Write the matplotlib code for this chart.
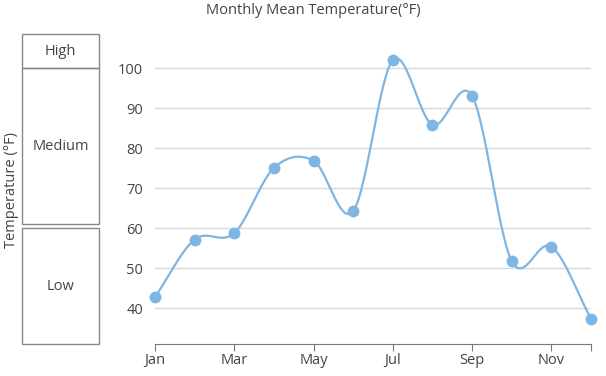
import numpy as np
import matplotlib
matplotlib.use("Agg")
import matplotlib.pyplot as plt
from matplotlib.patches import Rectangle

months = ['Jan', 'Feb', 'Mar', 'Apr', 'May', 'Jun',
          'Jul', 'Aug', 'Sep', 'Oct', 'Nov', 'Dec']
temps = [42.8, 57.2, 58.8, 75.1, 76.9, 64.3, 102.1, 85.9, 93.1, 51.8, 55.4, 37.4]
y_ticks = [40, 50, 60, 70, 80, 90, 100]

# band ranges on the left (label, low, high)
band_names = ['Low', 'Medium', 'High']
band_lows = [31.1, 61.0, 100.0]
band_highs = [60.0, 100.0, 108.6]

plt.rcParams['font.family'] = ['Open Sans', 'DejaVu Sans']

line_color = '#7fb5e3'
text_color = '#444444'
fs = 10.5


def catmull_rom(x, y, steps=30):
    # smooth curve through all points
    px = np.concatenate([[2 * x[0] - x[1]], x, [2 * x[-1] - x[-2]]])
    py = np.concatenate([[2 * y[0] - y[1]], y, [2 * y[-1] - y[-2]]])
    xs, ys = [], []
    t = np.linspace(0, 1, steps)
    for i in range(1, len(px) - 2):
        for p, out in ((px, xs), (py, ys)):
            p0, p1, p2, p3 = p[i - 1], p[i], p[i + 1], p[i + 2]
            out.extend(0.5 * ((2 * p1) + (-p0 + p2) * t
                              + (2 * p0 - 5 * p1 + 4 * p2 - p3) * t ** 2
                              + (-p0 + 3 * p1 - 3 * p2 + p3) * t ** 3))
    return np.array(xs), np.array(ys)


W, H = 606, 376
fig = plt.figure(figsize=(W / 100, H / 100), dpi=100)

y_lo, y_hi = 31.2, 108.6
bottom = 1 - 343.5 / H
top = 1 - 34 / H
ax = fig.add_axes([155 / W, bottom, (591 - 155) / W, top - bottom])

x = np.arange(len(months))
sx, sy = catmull_rom(x.astype(float), np.array(temps))
ax.plot(sx, sy, color=line_color, lw=1.6, zorder=3, clip_on=False)
ax.plot(x, temps, 'o', color=line_color, ms=7.5, zorder=4, clip_on=False)

ax.set_xlim(0, 11)
ax.set_ylim(y_lo, y_hi)
ax.set_yticks(y_ticks)
tick_pos = [0, 2, 4, 6, 8, 10, 11]
ax.set_xticks(tick_pos)
ax.set_xticklabels([months[i] if i % 2 == 0 else '' for i in tick_pos])
ax.grid(axis='y', color='#d9d9d9', lw=1)
ax.set_axisbelow(True)
for s in ['top', 'right', 'left']:
    ax.spines[s].set_visible(False)
ax.spines['bottom'].set_color('#777777')
ax.tick_params(axis='y', length=0, pad=8.5, labelsize=fs, labelcolor=text_color)
ax.tick_params(axis='x', length=5, color='#777777', labelsize=fs,
               labelcolor=text_color, pad=2)

fig.text(313 / W, 1 - 10 / H, 'Monthly Mean Temperature(°F)', ha='center',
         va='center', fontsize=fs, color=text_color)

# band axis on the left
bx = fig.add_axes([22 / W, bottom, 77 / W, top - bottom], sharey=ax)
bx.set_xlim(0, 1)
for name, lo, hi in zip(band_names, band_lows, band_highs):
    bx.add_patch(Rectangle((0, lo), 1, hi - lo, fill=False, ec='#888888', lw=1,
                           clip_on=False))
    bx.text(0.5, (lo + hi) / 2, name, ha='center', va='center',
            fontsize=fs, color=text_color)
bx.axis('off')
fig.text(12 / W, 1 - 190 / H, 'Temperature (°F)', rotation=90, ha='center',
         va='center', fontsize=fs, color=text_color)

fig.savefig('out.png', dpi=100)
